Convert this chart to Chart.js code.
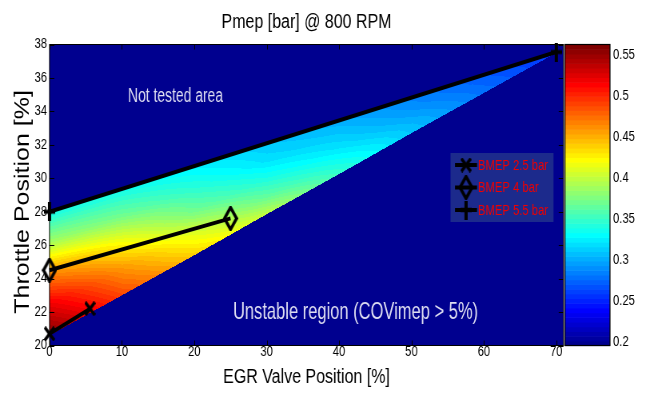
<!DOCTYPE html>
<html>
<head>
<meta charset="utf-8">
<script src="https://cdn.jsdelivr.net/npm/chart.js@4.4.1/dist/chart.umd.min.js"></script>
<style>
  html, body { margin: 0; padding: 0; background: #fff; overflow: hidden; }
  /* the figure is drawn wide and squeezed horizontally, like the exported plot */
  #pmep { transform: scaleX(0.7995); transform-origin: 0 0; display: block; }
</style>
</head>
<body>
<canvas id="pmep" width="808" height="394"></canvas>
<script>
// axis ticks
const xTicks = [0, 10, 20, 30, 40, 50, 60, 70];
const yTicks = [20, 22, 24, 26, 28, 30, 32, 34, 36, 38];
const cbTicks = [0.2, 0.25, 0.3, 0.35, 0.4, 0.45, 0.5, 0.55];

// BMEP operating lines (EGR %, throttle %)
const bmep25Egr = [0, 5.6];
const bmep25Tps = [20.7, 22.2];
const bmep4Egr = [0, 25];
const bmep4Tps = [24.5, 27.6];
const bmep55Egr = [0, 70];
const bmep55Tps = [28.0, 37.55];

// Pmep map: columns of EGR position, throttle from the stability limit up to the 5.5 bar line
const mapEgr = [0, 10, 20, 30, 40, 50, 60, 70];
const mapTpsLimit = [20.6, 23.0, 25.4, 27.85, 30.25, 32.7, 35.1, 37.5];
const mapTpsTop = [28.0, 29.37, 30.74, 32.11, 33.49, 34.86, 36.23, 37.55];
const pmepLimit = [0.56, 0.49, 0.44, 0.40, 0.35, 0.31, 0.28, 0.255];
const pmepQ1 = [0.52, 0.46, 0.41, 0.365, 0.335, 0.305, 0.277, 0.255];
const pmepMid = [0.465, 0.42, 0.37, 0.34, 0.32, 0.297, 0.275, 0.255];
const pmepQ3 = [0.39, 0.37, 0.345, 0.32, 0.31, 0.29, 0.272, 0.255];
const pmepTop = [0.335, 0.335, 0.325, 0.31, 0.30, 0.285, 0.27, 0.255];

const cMin = 0.1954, cMax = 0.5628;

const FONT = '"Liberation Sans", Arial, Helvetica, sans-serif';
const SX = 646 / 808;          // horizontal squeeze applied by css
const ux = v => v / SX;        // screen x -> canvas x

// matlab style jet(64)
function jet(k) {
  const t = k / 64;
  const c = v => Math.round(255 * Math.max(0, Math.min(1, v)));
  return [c(Math.min(4 * t - 1.5, -4 * t + 4.5)), c(Math.min(4 * t - 0.5, -4 * t + 3.5)), c(Math.min(4 * t + 0.5, -4 * t + 2.5))];
}
function colorIndex(v) {
  const k = Math.floor((v - cMin) / (cMax - cMin) * 64) + 1;
  return Math.max(1, Math.min(64, k));
}

function pmepAt(egr, tps) {
  const n = mapEgr.length;
  if (egr < mapEgr[0] || egr > mapEgr[n - 1]) return null;
  let i = 0;
  while (i < n - 2 && egr > mapEgr[i + 1]) i++;
  const u = (egr - mapEgr[i]) / (mapEgr[i + 1] - mapEgr[i]);
  const lo = mapTpsLimit[i] + u * (mapTpsLimit[i + 1] - mapTpsLimit[i]);
  const hi = mapTpsTop[i] + u * (mapTpsTop[i + 1] - mapTpsTop[i]);
  if (tps < lo || tps > hi) return null;
  const f = hi > lo ? (tps - lo) / (hi - lo) : 0;
  const rows = [pmepLimit, pmepQ1, pmepMid, pmepQ3, pmepTop];
  const r = f * (rows.length - 1);
  const j = Math.min(Math.floor(r), rows.length - 2);
  const w = r - j;
  const a = rows[j][i] + u * (rows[j][i + 1] - rows[j][i]);
  const b = rows[j + 1][i] + u * (rows[j + 1][i + 1] - rows[j + 1][i]);
  return a + w * (b - a);
}

// text squeezed to a given on-screen width (narrow helvetica look)
function narrowText(ctx, text, x, y, size, screenWidth) {
  ctx.font = size + 'px ' + FONT;
  const k = ux(screenWidth) / ctx.measureText(text).width;
  ctx.save();
  ctx.translate(x, y);
  ctx.scale(k, 1);
  ctx.fillText(text, 0, 0);
  ctx.restore();
}

// marker images
function markerX() {
  const c = document.createElement('canvas');
  c.width = 14; c.height = 15;
  const g = c.getContext('2d');
  g.strokeStyle = '#000'; g.lineWidth = 3.5;
  g.beginPath();
  g.moveTo(1, 1); g.lineTo(13, 14);
  g.moveTo(13, 1); g.lineTo(1, 14);
  g.stroke();
  return c;
}
function markerDiamond() {
  const c = document.createElement('canvas');
  c.width = 19; c.height = 25;
  const g = c.getContext('2d');
  g.strokeStyle = '#000'; g.lineWidth = 3.5;
  g.beginPath();
  g.moveTo(9.5, 1.5); g.lineTo(17, 12.5); g.lineTo(9.5, 23.5); g.lineTo(2, 12.5);
  g.closePath();
  g.stroke();
  return c;
}
function markerPlus() {
  const c = document.createElement('canvas');
  c.width = 14; c.height = 19;
  const g = c.getContext('2d');
  g.strokeStyle = '#000'; g.lineWidth = 4;
  g.beginPath();
  g.moveTo(7, 0); g.lineTo(7, 19);
  g.moveTo(0, 9.5); g.lineTo(14, 9.5);
  g.stroke();
  return c;
}

const toPts = (xs, ys) => xs.map((x, i) => ({ x: x, y: ys[i] }));

function lineSet(label, xs, ys, marker) {
  return {
    label: label,
    data: toPts(xs, ys),
    showLine: true,
    borderColor: '#000',
    backgroundColor: '#000',
    borderWidth: 4,
    pointStyle: marker,
    pointRadius: 5,
    clip: false
  };
}

const pmepMap = {
  id: 'pmepMap',
  beforeDatasetsDraw(chart) {
    const ctx = chart.ctx;
    const xs = chart.scales.x, ys = chart.scales.y;
    const a = chart.chartArea;
    const x0 = Math.round(a.left), y0 = Math.round(a.top);
    const w = Math.round(a.right) - x0, h = Math.round(a.bottom) - y0;
    const img = ctx.createImageData(w, h);
    const lut = [];
    for (let k = 1; k <= 64; k++) lut[k] = jet(k);
    for (let py = 0; py < h; py++) {
      const tps = ys.getValueForPixel(y0 + py + 0.5);
      for (let px = 0; px < w; px++) {
        const egr = xs.getValueForPixel(x0 + px + 0.5);
        const v = pmepAt(egr, tps);
        const col = lut[v === null ? 1 : colorIndex(v)];
        const o = (py * w + px) * 4;
        img.data[o] = col[0]; img.data[o + 1] = col[1]; img.data[o + 2] = col[2]; img.data[o + 3] = 255;
      }
    }
    ctx.putImageData(img, x0, y0);

    ctx.save();
    ctx.fillStyle = 'rgb(222,222,242)';
    ctx.textBaseline = 'middle';
    ctx.textAlign = 'center';
    narrowText(ctx, 'Not tested area', ux(175.5), 96, 20, 95);
    narrowText(ctx, 'Unstable region (COVimep > 5%)', ux(355.5), 312, 24, 245);
    ctx.restore();
  },
  afterDatasetsDraw(chart) {
    const ctx = chart.ctx;
    const a = chart.chartArea;
    const xs = chart.scales.x, ys = chart.scales.y, cb = chart.scales.cb;
    ctx.save();
    // axes box and inward ticks
    ctx.strokeStyle = '#000';
    ctx.lineWidth = 1;
    ctx.strokeRect(a.left, a.top, a.right - a.left, a.bottom - a.top);
    ctx.beginPath();
    xTicks.forEach(v => {
      const p = Math.round(xs.getPixelForValue(v)) + 0.5;
      ctx.moveTo(p, a.bottom); ctx.lineTo(p, a.bottom - 5);
      ctx.moveTo(p, a.top); ctx.lineTo(p, a.top + 5);
    });
    yTicks.forEach(v => {
      const p = Math.round(ys.getPixelForValue(v)) + 0.5;
      ctx.moveTo(a.left, p); ctx.lineTo(a.left + 6, p);
      ctx.moveTo(a.right, p); ctx.lineTo(a.right - 6, p);
    });
    ctx.stroke();

    // legend
    ctx.fillStyle = 'rgb(28,42,140)';
    ctx.fillRect(ux(450.5), 153, ux(103), 69);
    const rowsY = [165, 187.5, 210];
    ctx.textBaseline = 'middle';
    ctx.textAlign = 'left';
    chart.data.datasets.forEach((ds, i) => {
      const y = rowsY[i];
      ctx.strokeStyle = '#000';
      ctx.lineWidth = 4;
      ctx.beginPath();
      ctx.moveTo(ux(455), y); ctx.lineTo(ux(477), y);
      ctx.stroke();
      const m = ds.pointStyle;
      ctx.drawImage(m, ux(466) - m.width / 2, y - m.height / 2);
      ctx.fillStyle = '#f00000';
      ctx.font = '15px ' + FONT;
      const k = ctx.measureText('BMEP 2.5 bar').width;
      narrowText(ctx, ds.label, ux(478), y + 0.5, 15, 70 * ctx.measureText(ds.label).width / k);
    });

    // colorbar
    const bx = ux(565), bw = ux(45);
    const d = (cMax - cMin) / 64;
    for (let k = 1; k <= 64; k++) {
      const yA = cb.getPixelForValue(cMin + (k - 1) * d);
      const yB = cb.getPixelForValue(cMin + k * d);
      const c = jet(k);
      ctx.fillStyle = 'rgb(' + c[0] + ',' + c[1] + ',' + c[2] + ')';
      ctx.fillRect(bx, yB, bw, yA - yB + 0.6);
    }
    ctx.strokeStyle = '#000';
    ctx.lineWidth = 1.2;
    ctx.strokeRect(bx, a.top, bw, a.bottom - a.top);
    ctx.restore();
  }
};

const tickFont = { family: FONT, size: 14 };
const fixedTicks = list => scale => { scale.ticks = list.map(v => ({ value: v })); };

new Chart(document.getElementById('pmep'), {
  type: 'scatter',
  data: {
    datasets: [
      lineSet('BMEP 2.5 bar', bmep25Egr, bmep25Tps, markerX()),
      lineSet('BMEP 4 bar', bmep4Egr, bmep4Tps, markerDiamond()),
      lineSet('BMEP 5.5 bar', bmep55Egr, bmep55Tps, markerPlus())
    ]
  },
  options: {
    responsive: false,
    animation: false,
    layout: { padding: 0 },
    plugins: {
      legend: { display: false },
      tooltip: { enabled: false },
      title: {
        display: true,
        text: 'Pmep [bar] @ 800 RPM',
        fullSize: false,
        color: '#000',
        font: { family: FONT, size: 20, weight: 'normal' },
        padding: { top: 10, bottom: 10.5 }
      }
    },
    scales: {
      x: {
        type: 'linear', min: 0, max: 71,
        afterBuildTicks: fixedTicks(xTicks),
        afterFit: s => { s.height = 48.5; },
        grid: { display: false, drawTicks: false },
        border: { display: false },
        ticks: { color: '#000', font: tickFont, padding: -1.5, maxRotation: 0, autoSkip: false, callback: v => String(v) },
        title: { display: true, text: 'EGR Valve Position [%]', color: '#000', font: { family: FONT, size: 20 }, padding: { top: 0, bottom: 5 } }
      },
      y: {
        type: 'linear', min: 20, max: 38,
        afterBuildTicks: fixedTicks(yTicks),
        afterFit: s => { s.width = ux(49.5); },
        grid: { display: false, drawTicks: false },
        border: { display: false },
        ticks: { color: '#000', font: tickFont, padding: ux(2.5), autoSkip: false, callback: v => String(v) },
        // trailing spaces nudge the rotated label a little down the axis
        title: { display: true, text: 'Throttle Position [%]\u00a0\u00a0', color: '#000', font: { family: FONT, size: 25 }, padding: { top: 13.8, bottom: 0 } }
      },
      cb: {
        type: 'linear', position: 'right', min: cMin, max: cMax,
        afterBuildTicks: fixedTicks(cbTicks),
        afterFit: s => { s.width = 808 - ux(563.5); s.paddingTop = 0; s.paddingBottom = 0; },
        grid: { display: false, drawTicks: false },
        border: { display: false },
        ticks: { color: '#000', font: tickFont, padding: ux(49.5), autoSkip: false, callback: v => String(Math.round(v * 100) / 100) }
      }
    }
  },
  plugins: [pmepMap]
});
</script>
</body>
</html>
